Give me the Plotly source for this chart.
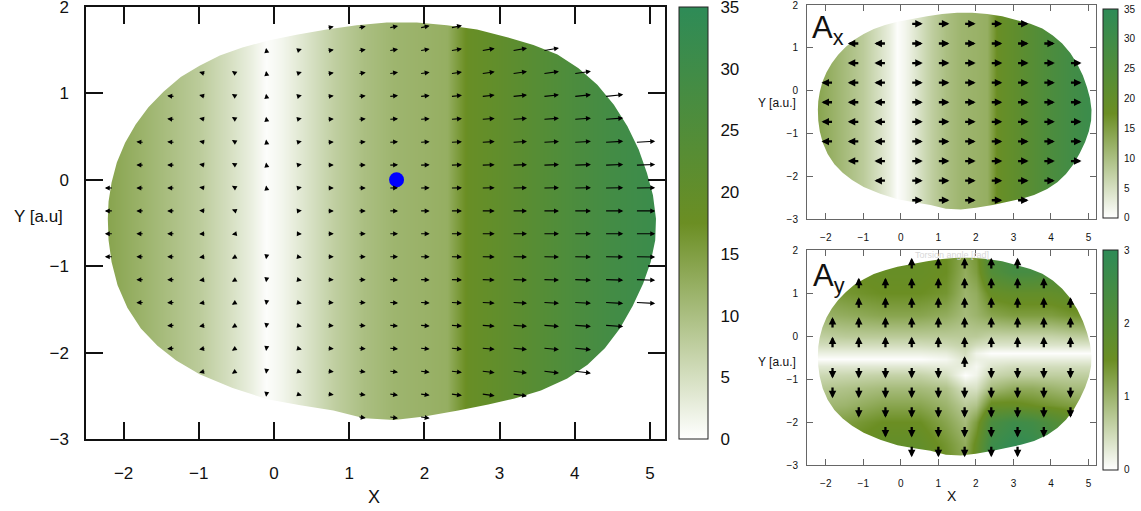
import math
import plotly.graph_objects as go

W, H = 1141, 511

# ---------------- data ----------------
x_ticks = [-2, -1, 0, 1, 2, 3, 4, 5]
y_ticks = [-3, -2, -1, 0, 1, 2]
cb_ticks_a = [0, 5, 10, 15, 20, 25, 30, 35]
cb_ticks_ay = [0, 1, 2, 3]

# |A| / Ax magnitude profile along X (same for every Y)
prof_x = [-2.6, -2.2, -1.8, -1.4, -1.0, -0.6, -0.3, -0.1, 0.1, 0.4, 0.8, 1.2, 1.6, 2.0, 2.3, 2.45, 2.6, 3.0, 3.5, 4.0, 4.5, 5.0, 5.3]
prof_z = [15, 14, 12, 10, 8, 5, 2.5, 0.3, 1.5, 4, 7.5, 10, 11.5, 12, 12.5, 15.5, 18.5, 20.5, 23.5, 26.5, 29, 31, 32]
band_y = [-3.3, 2.3]

# |Ay| map
ay_x = [-2.6, -1.5, -0.5, 0.5, 1.2, 1.7, 2.0, 2.4, 3.0, 3.5, 4.0, 4.5, 5.3]
ay_y = [-3.0, -2.5, -2.0, -1.6, -1.2, -0.9, -0.7, -0.53, -0.4, -0.2, 0.0, 0.5, 1.0, 1.5, 2.0]
ay_z = [
    [1.4, 1.6, 1.8, 1.8, 1.5, 1.2, 1.7, 2.7, 2.9, 2.9, 2.6, 2.3, 2.1],
    [1.3, 1.5, 1.7, 1.7, 1.4, 1.1, 1.6, 2.6, 2.9, 2.8, 2.5, 2.2, 2.0],
    [1.1, 1.3, 1.5, 1.5, 1.2, 0.9, 1.3, 2.3, 2.6, 2.5, 2.2, 1.9, 1.7],
    [0.9, 1.0, 1.2, 1.2, 1.0, 0.7, 0.8, 1.6, 1.6, 1.5, 1.4, 1.3, 1.2],
    [0.7, 0.8, 0.9, 0.9, 0.8, 0.4, 0.4, 0.9, 1.1, 1.1, 1.0, 0.9, 0.9],
    [0.5, 0.55, 0.6, 0.6, 0.45, 0.02, 0.15, 0.55, 0.65, 0.65, 0.65, 0.65, 0.65],
    [0.3, 0.3, 0.3, 0.3, 0.25, 0.25, 0.1, 0.35, 0.45, 0.45, 0.45, 0.45, 0.45],
    [0.02, 0.02, 0.02, 0.02, 0.1, 0.35, 0.2, 0.2, 0.22, 0.22, 0.22, 0.22, 0.22],
    [0.2, 0.2, 0.2, 0.2, 0.25, 0.45, 0.15, 0.02, 0.02, 0.02, 0.02, 0.02, 0.02],
    [0.45, 0.45, 0.45, 0.45, 0.5, 0.6, 0.45, 0.35, 0.35, 0.35, 0.35, 0.35, 0.35],
    [0.6, 0.7, 0.7, 0.7, 0.7, 0.7, 0.7, 0.6, 0.6, 0.6, 0.6, 0.65, 0.7],
    [1.0, 1.1, 1.2, 1.2, 1.1, 0.9, 1.0, 1.2, 1.3, 1.3, 1.3, 1.4, 1.5],
    [1.2, 1.4, 1.5, 1.5, 1.4, 1.0, 1.1, 1.6, 1.7, 1.7, 1.7, 1.8, 1.9],
    [1.3, 1.5, 1.6, 1.6, 1.5, 1.1, 1.3, 2.1, 2.4, 2.4, 2.3, 2.2, 2.1],
    [1.3, 1.4, 1.5, 1.6, 1.5, 1.2, 1.4, 2.3, 2.6, 2.6, 2.5, 2.3, 2.2],
]

# outline of the sampled domain (clockwise, starting at the left tip)
bnd_x = [-2.21, -2.20, -2.16, -2.09, -1.98, -1.84, -1.67, -1.47, -1.24, -0.99, -0.72, -0.42, -0.09, 0.30, 0.70,
         1.10, 1.50, 1.90, 2.30, 2.70, 3.10, 3.45, 3.77, 4.05, 4.30, 4.52, 4.70, 4.85, 4.96, 5.04, 5.08,
         5.07, 5.01, 4.91, 4.77, 4.60, 4.40, 4.17, 3.90, 3.55, 3.20, 2.85, 2.45, 2.00, 1.60, 1.20, 0.79,
         0.35, -0.09, -0.55, -0.99, -1.30, -1.55, -1.77, -1.95, -2.08, -2.16, -2.20]
bnd_y = [-0.45, -0.25, -0.03, 0.20, 0.43, 0.64, 0.84, 1.02, 1.19, 1.32, 1.44, 1.53, 1.61, 1.68, 1.74,
         1.79, 1.82, 1.82, 1.79, 1.74, 1.65, 1.56, 1.45, 1.29, 1.10, 0.87, 0.62, 0.35, 0.08, -0.18, -0.45,
         -0.70, -0.95, -1.20, -1.46, -1.72, -1.95, -2.14, -2.30, -2.44, -2.53, -2.60, -2.67, -2.74, -2.78, -2.76, -2.67,
         -2.61, -2.54, -2.41, -2.25, -2.09, -1.92, -1.72, -1.48, -1.22, -0.95, -0.70]

# main vector field
main_gx = [-2.15, -1.74, -1.33, -0.92, -0.51, -0.10, 0.31, 0.72, 1.13, 1.54, 1.95, 2.36, 2.77, 3.18, 3.59, 4.00, 4.41, 4.82]
main_gy = [1.76, 1.495, 1.23, 0.965, 0.70, 0.435, 0.17, -0.095, -0.36, -0.625, -0.89, -1.155, -1.42, -1.685, -1.95, -2.215, -2.48, -2.745]
main_first = [7, 5, 3, 2, 2, 1, 1, 0, 0, 0, 0, 1, 1, 2, 2, 3, 5, 8]
main_last = [11, 14, 15, 16, 16, 17, 17, 17, 17, 17, 17, 17, 17, 16, 15, 15, 13, 10]
main_u = [-0.10, -0.09, -0.09, -0.075, -0.05, -0.005, 0.06, 0.075, 0.09, 0.11, 0.12, 0.14, 0.165, 0.185, 0.20, 0.215, 0.235, 0.25]
main_tilt = [12, 10, 8, 6, 4, 3, 2, 1, 0, 0, -1, -2, -3, -4, -5, -7, -8, -8]
main_vy = [0.03, 0.03, 0.03, 0.03, 0.03, 0.03, 0.03, 0.03, 0.02, -0.01, -0.03, -0.03, -0.03, -0.03, -0.03, -0.03, -0.03, -0.03]
main_vcol = [0, 0, 0, 0.3, 0.8, 1, 0.3, 0, 0, 0, 0, 0, 0, 0, 0, 0, 0, 0]

dot_x = [1.63]
dot_y = [0.0]

# small panels: sign of the component at each grid point (0 = no arrow)
small_gx = [-1.82, -1.12, -0.41, 0.29, 1.00, 1.70, 2.41, 3.11, 3.81, 4.52]
small_gy = [1.56, 1.10, 0.644, 0.186, -0.272, -0.73, -1.188, -1.646, -2.104, -2.562]
ax_sign = [
    [0, 0, 0, 1, 1, 1, 1, 1, 0, 0],
    [0, -1, -1, 1, 1, 1, 1, 1, 1, 0],
    [0, -1, -1, 1, 1, 1, 1, 1, 1, 1],
    [-1, -1, -1, 1, 1, 1, 1, 1, 1, 1],
    [-1, -1, -1, 1, 1, 1, 1, 1, 1, 1],
    [-1, -1, -1, 1, 1, 1, 1, 1, 1, 1],
    [-1, -1, -1, 1, 1, 1, 1, 1, 1, 1],
    [0, -1, -1, 1, 1, 1, 1, 1, 1, 1],
    [0, 0, -1, 1, 1, 1, 1, 1, 1, 0],
    [0, 0, 0, 1, 1, 1, 1, 1, 0, 0],
]
ay_sign = [
    [0, 0, 0, 1, 1, 1, 1, 1, 0, 0],
    [0, 1, 1, 1, 1, 1, 1, 1, 1, 0],
    [0, 1, 1, 1, 1, 1, 1, 1, 1, 1],
    [1, 1, 1, 1, 1, 1, 1, 1, 1, 1],
    [1, 1, 1, 1, 1, 1, 1, 1, 1, 1],
    [-1, -1, -1, -1, -1, 1, -1, -1, -1, -1],
    [-1, -1, -1, -1, -1, -1, -1, -1, -1, -1],
    [0, -1, -1, -1, -1, -1, -1, -1, -1, -1],
    [0, 0, -1, -1, -1, -1, -1, -1, -1, 0],
    [0, 0, 0, -1, -1, -1, -1, -1, 0, 0],
]

# ---------------- layout geometry (pixels) ----------------
X_RANGE = [-2.5, 5.2]
Y_RANGE = [-3, 2]
MAIN = (86, 665, 7, 439)
AXP = (807, 1096, 5, 219)
AYP = (807, 1096, 250, 465)
CB_MAIN = (679, 708, 7, 439)
CB_AX = (1103, 1118, 9, 218)
CB_AY = (1103, 1118, 250, 470)

colorscale = [[0, '#ffffff'], [0.5, '#6b8e23'], [1, '#2e8b57']]
FONT = 'Liberation Sans, Arial, sans-serif'


def xdom(p):
    return [p[0] / W, p[1] / W]


def ydom(p):
    return [1 - p[3] / H, 1 - p[2] / H]


def cbar(p, ticks, vmax, fs, tlen):
    eps = vmax * 1e-4
    vals = [min(max(t, eps), vmax - eps) for t in ticks]
    return dict(x=p[0] / W, xanchor='left', y=1 - (p[2] + p[3]) / 2 / H, yanchor='middle',
                len=(p[3] - p[2]) / H, lenmode='fraction', thickness=p[1] - p[0], thicknessmode='pixels',
                xpad=0, ypad=0, outlinewidth=1, outlinecolor='#222', tickmode='array', tickvals=vals,
                ticktext=[str(t) for t in ticks], ticks='outside', ticklabeloverflow='allow',
                ticklen=tlen, tickcolor='rgba(0,0,0,0)', tickfont=dict(size=fs, color='#111', family=FONT))


fig = go.Figure()

# heatmaps
fig.add_trace(go.Heatmap(x=prof_x, y=band_y, z=[prof_z, prof_z], zsmooth='best', colorscale=colorscale,
                         zmin=0, zmax=35, colorbar=cbar(CB_MAIN, cb_ticks_a, 35, 17, 9), xaxis='x', yaxis='y',
                         hoverinfo='skip'))
fig.add_trace(go.Heatmap(x=prof_x, y=band_y, z=[prof_z, prof_z], zsmooth='best', colorscale=colorscale,
                         zmin=0, zmax=35, colorbar=cbar(CB_AX, cb_ticks_a, 35, 10, 4), xaxis='x2', yaxis='y2',
                         hoverinfo='skip'))
fig.add_trace(go.Heatmap(x=ay_x, y=ay_y, z=ay_z, zsmooth='best', colorscale=colorscale,
                         zmin=0, zmax=3, colorbar=cbar(CB_AY, cb_ticks_ay, 3, 10, 4), xaxis='x3', yaxis='y3',
                         hoverinfo='skip'))

# white mask outside the sampled domain (keyhole polygon)
yk = bnd_y[0]
mask_x = bnd_x + [bnd_x[0], -3.5, -3.5, 6.5, 6.5, -3.5, -3.5, bnd_x[0]]
mask_y = bnd_y + [bnd_y[0], yk, -4.5, -4.5, 3.5, 3.5, yk, bnd_y[0]]
for xa, ya in (('x', 'y'), ('x2', 'y2'), ('x3', 'y3')):
    fig.add_trace(go.Scatter(x=mask_x, y=mask_y, mode='lines', fill='toself', fillcolor='white',
                             line=dict(width=0, color='white'), xaxis=xa, yaxis=ya, hoverinfo='skip',
                             showlegend=False))

# blue dot
fig.add_trace(go.Scatter(x=dot_x, y=dot_y, mode='markers', marker=dict(size=15, color='#0000ff'),
                         xaxis='x', yaxis='y', showlegend=False, hoverinfo='skip'))

annotations = []


def arrow(xr, yr, x0, y0, x1, y1, width, size):
    annotations.append(dict(x=x1, y=y1, ax=x0, ay=y0, xref=xr, yref=yr, axref=xr, ayref=yr, text='',
                            showarrow=True, arrowhead=2, arrowsize=size, arrowwidth=width,
                            arrowcolor='black', standoff=0, startstandoff=0, font=dict(size=1),
                            borderpad=0))


# main arrows
px_x = (MAIN[1] - MAIN[0]) / (X_RANGE[1] - X_RANGE[0])
px_y = (MAIN[3] - MAIN[2]) / (Y_RANGE[1] - Y_RANGE[0])
for j, gy in enumerate(main_gy):
    for i in range(main_first[j], main_last[j] + 1):
        gx = main_gx[i]
        u = main_u[i]
        v = math.tan(math.radians(main_tilt[j])) * abs(u) * px_x / px_y + main_vy[j] * main_vcol[i]
        arrow('x', 'y', gx, gy, gx + u, gy + v, 1.1, 0.9)

# small panel arrows (fixed length)
sx = (AXP[1] - AXP[0]) / (X_RANGE[1] - X_RANGE[0])
sy = (AXP[3] - AXP[2]) / (Y_RANGE[1] - Y_RANGE[0])
L = 11
for j, gy in enumerate(small_gy):
    for i, gx in enumerate(small_gx):
        s = ax_sign[j][i]
        if s:
            arrow('x2', 'y2', gx, gy, gx + s * L / sx, gy, 2.3, 0.65)
        s = ay_sign[j][i]
        if s:
            arrow('x3', 'y3', gx, gy, gx, gy + s * L / sy, 2.3, 0.65)


# text labels
def label(text, x, y, size, xanchor='center', yanchor='middle', color='#111'):
    annotations.append(dict(text=text, x=x / W, y=1 - y / H, xref='paper', yref='paper', showarrow=False,
                            xanchor=xanchor, yanchor=yanchor, font=dict(size=size, color=color, family=FONT)))


label('Y [a.u]', 38, 216, 17)
label('X', 374, 497, 18)
label('Y [a.u.]', 777, 103, 12)
label('Y [a.u.]', 777, 362, 12)
label('X', 952, 496, 14)
label('Torsion angle [rad]', 952, 255, 9, color='#d8d8d8')
label('A<sub>x</sub>', 810, 30, 31, xanchor='left')
label('A<sub>y</sub>', 811, 278, 31, xanchor='left')

# colorbar inner dashed ticks (both sides)
shapes = []
for p, ticks, vmax, dl in ((CB_MAIN, cb_ticks_a, 35, 9), (CB_AX, cb_ticks_a, 35, 4), (CB_AY, cb_ticks_ay, 3, 4)):
    for t in ticks[1:-1]:
        ypx = p[3] - t / vmax * (p[3] - p[2])
        for xa, xb in ((p[0], p[0] + dl), (p[1] - dl, p[1])):
            shapes.append(dict(type='line', xref='paper', yref='paper', x0=xa / W, x1=xb / W,
                               y0=1 - ypx / H, y1=1 - ypx / H, line=dict(color='#333', width=1.5)))


def axis(dom, rng, ticks, fs, tlen, standoff, lc, lw, anchor):
    return dict(domain=dom, range=rng, tickvals=ticks, showgrid=False, zeroline=False, showline=True,
                mirror='ticks', linecolor=lc, linewidth=lw, ticks='inside', ticklen=tlen, tickwidth=lw,
                tickcolor=lc, tickfont=dict(size=fs, color='#111', family=FONT), ticklabelstandoff=standoff,
                ticklabeloverflow='allow', anchor=anchor, fixedrange=True)


fig.update_layout(
    width=W, height=H, margin=dict(l=0, r=0, t=0, b=0, autoexpand=False),
    paper_bgcolor='white', plot_bgcolor='white', showlegend=False,
    xaxis=axis(xdom(MAIN), X_RANGE, x_ticks, 17, 17, 18, '#111', 1.5, 'y'),
    yaxis=axis(ydom(MAIN), Y_RANGE, y_ticks, 17, 17, 12, '#111', 1.5, 'x'),
    xaxis2=axis(xdom(AXP), X_RANGE, x_ticks, 10, 6, 9, '#666', 1, 'y2'),
    yaxis2=axis(ydom(AXP), Y_RANGE, y_ticks, 10, 6, 6, '#666', 1, 'x2'),
    xaxis3=axis(xdom(AYP), X_RANGE, x_ticks, 10, 6, 9, '#666', 1, 'y3'),
    yaxis3=axis(ydom(AYP), Y_RANGE, y_ticks, 10, 6, 6, '#666', 1, 'x3'),
    annotations=annotations, shapes=shapes,
)

fig.write_html('out.html')
